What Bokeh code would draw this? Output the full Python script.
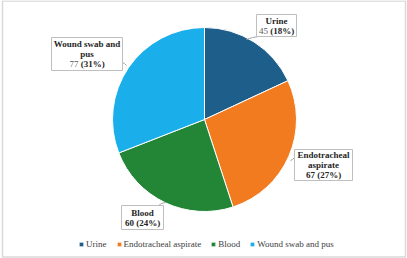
from bokeh.plotting import figure
from bokeh.models import Range1d, Legend, LegendItem
from bokeh.core.properties import value
from bokeh.embed import file_html
from bokeh.resources import INLINE
import math

# ---- data ----
categories = ["Urine", "Endotracheal aspirate", "Blood", "Wound swab and pus"]
counts = [45, 67, 60, 77]
percents = [18, 27, 24, 31]
label_lines = [["Urine"], ["Endotracheal", "aspirate"], ["Blood"], ["Wound swab and", "pus"]]
colors = ["#1d5e8a", "#f27a1f", "#228636", "#1aafea"]
count_bold = [False, True, True, False]

W, H = 407, 258
p = figure(width=W, height=H, output_backend="svg", toolbar_location=None,
           x_range=Range1d(0, W), y_range=Range1d(0, H), min_border=0)
p.axis.visible = False
p.grid.visible = False
p.outline_line_color = None
p.background_fill_color = "white"

def Y(y):
    return H - y

FONT_NAME = "Liberation Serif"

# outer border
p.rect(x=[203.5], y=[Y(128.5)], width=[403], height=[256], fill_color=None,
       line_color="#d9d9d9", line_width=1.5)

cx, cy, r = 204, Y(119), 92
total = sum(counts)
cum = 0
renderers = []
for i, c in enumerate(counts):
    a0 = math.pi / 2 - 2 * math.pi * cum / total
    cum += c
    a1 = math.pi / 2 - 2 * math.pi * cum / total
    rr = p.wedge(x=[cx], y=[cy], radius=r, start_angle=[a1], end_angle=[a0],
                 direction="anticlock", fill_color=colors[i], line_color="white",
                 line_width=1)
    renderers.append(rr)

# label boxes (layout, in image pixels): left, top, right, bottom
boxes = [(256, 14, 296, 36), (294, 149, 352, 180), (121, 205, 163, 229), (51, 37, 122, 70)]
# leader lines (layout)
leaders = [
    [(258, 36), (252, 37), (246, 39)],
    [(294, 157), (292, 159), (290, 160)],
    [(158, 205), (161, 203), (165, 202)],
    [(122, 62), (124, 63), (126, 65)],
]
for pts in leaders:
    p.line(x=[q[0] for q in pts], y=[Y(q[1]) for q in pts], line_color="#a6a6a6", line_width=1)

for (l, t, rgt, b) in boxes:
    p.quad(left=[l], right=[rgt], top=[Y(t)], bottom=[Y(b)], fill_color="white",
           line_color="#bfbfbf", line_width=1)

fs = 9
lh = 10
font = value(FONT_NAME)
def w_digits(s, bold):
    wmap = {"(": 0.333, ")": 0.333, "%": 1.0 if bold else 0.833, " ": 0.25}
    return sum(wmap.get(ch, 0.5) for ch in s) * fs

for i in range(4):
    l, t, rgt, b = boxes[i]
    xc = (l + rgt) / 2
    lines = label_lines[i]
    n = len(lines) + 1
    ymid = (t + b) / 2
    y0 = ymid - (n - 1) * lh / 2
    for k, s in enumerate(lines):
        p.text(x=[xc], y=[Y(y0 + k * lh)], text=[s], text_font=font,
               text_font_size=f"{fs}px", text_font_style="bold",
               text_color="#262626", text_align="center", text_baseline="middle")
    yl = Y(y0 + len(lines) * lh)
    ns = str(counts[i])
    ps = f"({percents[i]}%)"
    wn = w_digits(ns + " ", count_bold[i])
    wp = w_digits(ps, True)
    start = xc - (wn + wp) / 2
    p.text(x=[start], y=[yl], text=[ns], text_font=font, text_font_size=f"{fs}px",
           text_font_style="bold" if count_bold[i] else "normal",
           text_color="#262626" if count_bold[i] else "#595959",
           text_align="left", text_baseline="middle")
    p.text(x=[start + wn], y=[yl], text=[ps], text_font=font, text_font_size=f"{fs}px",
           text_font_style="bold", text_color="#262626",
           text_align="left", text_baseline="middle")

legend = Legend(items=[LegendItem(label=categories[i], renderers=[renderers[i]]) for i in range(4)],
                orientation="horizontal", location=(78, 9),
                label_text_font=FONT_NAME, label_text_font_size="9px",
                label_text_color="#404040", glyph_width=6, glyph_height=6,
                label_standoff=2, spacing=9, padding=0, margin=0,
                label_height=10, border_line_color=None, background_fill_alpha=0)
p.add_layout(legend)

open("out.html", "w").write(file_html(p, INLINE))
